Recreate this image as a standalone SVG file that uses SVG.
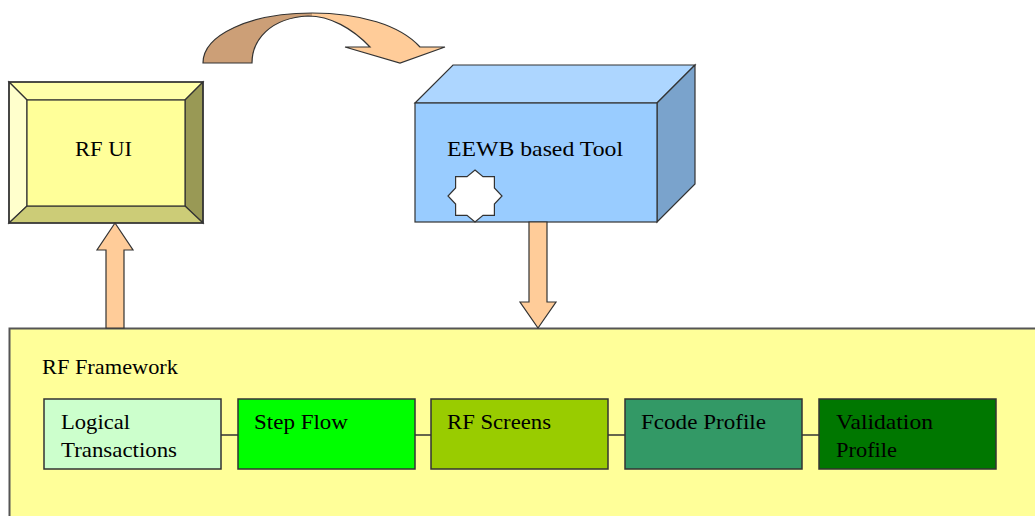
<svg xmlns="http://www.w3.org/2000/svg" width="1035" height="516" viewBox="0 0 1035 516">
  <style>
    text { font-family: "Liberation Serif", "Times New Roman", serif; font-size: 22px; fill: #000; }
    .ol { stroke: #333; stroke-width: 1.2; stroke-linejoin: miter; }
    .comp { stroke: #333; stroke-width: 1.5; }
    .arrow { fill: #FFCC99; stroke: #333; stroke-width: 1.2; stroke-linejoin: miter; }
    .link { stroke: #333; stroke-width: 1.5; fill: none; }
  </style>
  <defs>
    <clipPath id="leftHalf"><rect x="0" y="0" width="312" height="80"/></clipPath>
  </defs>
  <rect x="0" y="0" width="1035" height="516" fill="#FFFFFF"/>

  <!-- RF Framework container -->
  <g id="rf-framework">
    <rect x="9.5" y="328.5" width="1040" height="200" fill="#FFFF99" stroke="#555" stroke-width="2"/>
    <text x="42" y="374" textLength="136" lengthAdjust="spacingAndGlyphs">RF Framework</text>
  </g>

  <!-- RF UI bevel box -->
  <g id="rf-ui">
    <polygon class="ol" points="9,82 203,82 185,100 27,100" fill="#FFFFAA"/>
    <polygon class="ol" points="9,82 27,100 27,206 9,223" fill="#FFFFCC"/>
    <polygon class="ol" points="203,82 203,223 185,206 185,100" fill="#999955"/>
    <polygon class="ol" points="9,223 27,206 185,206 203,223" fill="#CCCC77"/>
    <rect class="ol" x="27" y="100" width="158" height="106" fill="#FFFF99"/>
    <rect x="9" y="82" width="194" height="141" fill="none" stroke="#333" stroke-width="1.5"/>
    <text x="75" y="156" textLength="57" lengthAdjust="spacingAndGlyphs">RF UI</text>
  </g>

  <!-- EEWB based Tool 3D box -->
  <g id="eewb-tool">
    <polygon class="ol" points="415,103 453,65 695,65 657,103" fill="#ADD6FF"/>
    <polygon class="ol" points="657,103 695,65 695,184 657,222" fill="#7AA3CC"/>
    <rect class="ol" x="415" y="103" width="242" height="119" fill="#99CCFF"/>
    <text x="447" y="156" textLength="176" lengthAdjust="spacingAndGlyphs">EEWB based Tool</text>
    <polygon class="ol" fill="#FFFFFF" points="475,170 483.0,176.6 494.4,176.6 494.4,188.0 502,196 494.4,204.0 494.4,215.4 483.0,215.4 475,222 467.0,215.4 455.6,215.4 455.6,204.0 448,196 455.6,188.0 455.6,176.6 467.0,176.6"/>
  </g>

  <!-- Components -->
  <g id="logical-transactions">
    <rect class="comp" x="44" y="399" width="177" height="70" fill="#CCFFCC"/>
    <text x="61" y="429" textLength="69" lengthAdjust="spacingAndGlyphs">Logical</text>
    <text x="61" y="457" textLength="116" lengthAdjust="spacingAndGlyphs">Transactions</text>
  </g>
  <g id="step-flow">
    <rect class="comp" x="238" y="399" width="177" height="70" fill="#00FF00"/>
    <text x="254" y="429" textLength="94" lengthAdjust="spacingAndGlyphs">Step Flow</text>
  </g>
  <g id="rf-screens">
    <rect class="comp" x="431" y="399" width="177" height="70" fill="#99CC00"/>
    <text x="447" y="429" textLength="104" lengthAdjust="spacingAndGlyphs">RF Screens</text>
  </g>
  <g id="fcode-profile">
    <rect class="comp" x="625" y="399" width="177" height="70" fill="#339966"/>
    <text x="641" y="429" textLength="125" lengthAdjust="spacingAndGlyphs">Fcode Profile</text>
  </g>
  <g id="validation-profile">
    <rect class="comp" x="819" y="399" width="177" height="70" fill="#007700"/>
    <text x="836" y="429" textLength="97" lengthAdjust="spacingAndGlyphs">Validation</text>
    <text x="836" y="457" textLength="61" lengthAdjust="spacingAndGlyphs">Profile</text>
  </g>

  <!-- Connectors -->
  <g id="connectors">
    <line class="link" x1="221" y1="435" x2="238" y2="435"/>
    <line class="link" x1="415" y1="435" x2="431" y2="435"/>
    <line class="link" x1="608" y1="435" x2="625" y2="435"/>
    <line class="link" x1="802" y1="435" x2="819" y2="435"/>
    <polygon class="arrow" points="115,223 133,250 124,250 124,328 106,328 106,250 97,250"/>
    <polygon class="arrow" points="529,222 547,222 547,302 556,302 538,328 520,302 529,302"/>
    <g id="curved-arrow">
      <path fill="#FFCC99" d="M203,63 C203,35 250,13 312,13 C360,13 400,25 420,47 L445,47 L400,63 L345,47 L370,47 C352,28 330,16 308,16 C270,18 252,40 252,63 Z"/>
      <path fill="#CC9F77" clip-path="url(#leftHalf)" d="M203,63 C203,35 250,13 312,13 C360,13 400,25 420,47 L445,47 L400,63 L345,47 L370,47 C352,28 330,16 308,16 C270,18 252,40 252,63 Z"/>
      <path fill="none" stroke="#333" stroke-width="1.2" d="M203,63 C203,35 250,13 312,13 C360,13 400,25 420,47 L445,47 L400,63 L345,47 L370,47 C352,28 330,16 308,16 C270,18 252,40 252,63 Z"/>
    </g>
  </g>
</svg>
